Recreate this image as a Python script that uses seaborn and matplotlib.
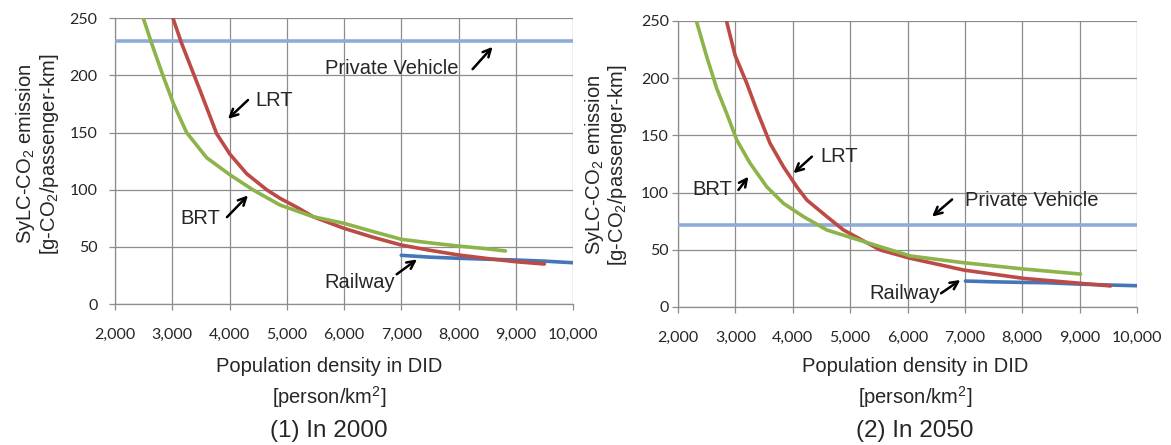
import seaborn as sns
import matplotlib.pyplot as plt
from matplotlib.ticker import FixedLocator

# (1) In 2000 -- population density in DID vs SyLC-CO2 emission
lrt_2000_x = [2950, 3013, 3164, 3485, 3776, 4009, 4300, 4649, 4882, 5200, 5460,
              6000, 6500, 7000, 7500, 8000, 8500, 9000, 9500]
lrt_2000_y = [262, 250, 228, 187, 149, 131, 114, 100, 92.5, 84, 76.4,
              66.2, 58.5, 51.6, 47, 42.9, 39.8, 37, 35]
brt_2000_x = [2450, 2495, 2640, 2844, 3019, 3251, 3601, 4009, 4416, 4882, 5460,
              6000, 6500, 7000, 7500, 8000, 8500, 8820]
brt_2000_y = [260, 250, 228, 199, 175.6, 150, 128, 113, 99.7, 86.6, 76.4,
              70.6, 63.5, 56.6, 53.5, 50.7, 48.3, 46.4]
rail_2000_x = [7000, 7500, 8000, 8500, 9000, 9500, 10000]
rail_2000_y = [42.6, 41, 40, 39.2, 38.5, 37.5, 36.1]
car_2000_x = [2000, 10000]
car_2000_y = [230, 230]

# (2) In 2050
lrt_2050_x = [2800, 2850, 2995, 3199, 3373, 3605, 3838, 4071, 4246, 4595, 4885,
              5525, 6049, 6979, 8026, 9016, 9539]
lrt_2050_y = [265, 249, 220, 195.5, 172, 143, 122.6, 105, 93.5, 79, 67.3,
              49.8, 42.6, 32.3, 25, 20.7, 18.4]
brt_2050_x = [2280, 2326, 2501, 2675, 2850, 3024, 3257, 3548, 3838, 4187, 4595,
              5525, 6049, 6979, 8026, 9016]
brt_2050_y = [265, 249, 218.8, 191, 169, 146, 125.6, 105, 90.6, 79, 67.3,
              52.7, 44.6, 38.7, 33.2, 28.8]
rail_2050_x = [7009, 7500, 8000, 8434, 9000, 9539, 10000]
rail_2050_y = [22.7, 22, 21.5, 21.2, 20, 19.2, 18.6]
car_2050_x = [2000, 10000]
car_2050_y = [72, 72]

x_ticks = [2000, 3000, 4000, 5000, 6000, 7000, 8000, 9000, 10000]
y_ticks = [0, 50, 100, 150, 200, 250]

RED = '#BC4A45'
GREEN = '#8CB44A'
BLUE = '#4675B8'
LIGHT = '#8FAAD7'
GRAY = '#8C8C8C'

sns.set_style('white')
plt.rcParams['font.family'] = ['Liberation Sans', 'DejaVu Sans']
plt.rcParams['mathtext.default'] = 'regular'

fig = plt.figure(figsize=(11.71, 4.45), dpi=100)
ax1 = fig.add_axes([115 / 1171, 141 / 445, 458 / 1171, 285.7 / 445])
ax2 = fig.add_axes([678 / 1171, 138 / 445, 459 / 1171, 286 / 445])


def setup(ax, ypad):
    ax.set_xlim(2000, 10000)
    ax.set_ylim(0, 250)
    ax.xaxis.set_major_locator(FixedLocator(x_ticks))
    ax.yaxis.set_major_locator(FixedLocator(y_ticks))
    ax.set_xticklabels([f'{v:,}' for v in x_ticks], fontfamily='Lato', fontsize=11.5)
    ax.set_yticklabels([str(v) for v in y_ticks], fontfamily='Lato', fontsize=11.5)
    ax.grid(True, color=GRAY, lw=0.9, zorder=0)
    ax.set_axisbelow(True)
    for s in ['top', 'right']:
        ax.spines[s].set_visible(False)
    for s in ['left', 'bottom']:
        ax.spines[s].set_color(GRAY)
        ax.spines[s].set_linewidth(0.9)
    ax.tick_params(axis='x', direction='out', length=4.5, width=0.9, color=GRAY, pad=13, bottom=True)
    ax.tick_params(axis='y', direction='out', length=4.5, width=0.9, color=GRAY, pad=ypad, left=True)


def draw(ax, series):
    for xs, ys, c in series:
        sns.lineplot(x=xs, y=ys, ax=ax, color=c, linewidth=2.6, zorder=3)


def note(ax, label, txt_xy, ha, tail, head):
    ax.text(txt_xy[0], txt_xy[1], label, ha=ha, va='center', fontsize=14.5, zorder=5)
    ax.annotate('', xy=head, xytext=tail,
                arrowprops=dict(arrowstyle='->', lw=1.8, color='black',
                                shrinkA=0, shrinkB=0, mutation_scale=14), zorder=5)


setup(ax1, 8)
draw(ax1, [(car_2000_x, car_2000_y, LIGHT),
           (rail_2000_x, rail_2000_y, BLUE),
           (lrt_2000_x, lrt_2000_y, RED),
           (brt_2000_x, brt_2000_y, GREEN)])
note(ax1, 'LRT', (4445, 178.5), 'left', (4323, 178.5), (3974, 162))
note(ax1, 'BRT', (3834, 75), 'right', (3956, 76), (4323, 95))
note(ax1, 'Private Vehicle', (5668, 206.5), 'left', (8246, 205.5), (8595, 225))
note(ax1, 'Railway', (6891, 19), 'right', (6920, 26), (7275, 39))

setup(ax2, 2)
draw(ax2, [(car_2050_x, car_2050_y, LIGHT),
           (rail_2050_x, rail_2050_y, BLUE),
           (lrt_2050_x, lrt_2050_y, RED),
           (brt_2050_x, brt_2050_y, GREEN)])
note(ax2, 'LRT', (4478, 131.4), 'left', (4333, 131.4), (4013, 116.9))
note(ax2, 'BRT', (2937, 102.3), 'right', (3053, 102.3), (3227, 113.9))
note(ax2, 'Private Vehicle', (7009, 93.5), 'left', (6777, 94), (6428, 79))
note(ax2, 'Railway', (6560, 12), 'right', (6585, 12), (6921, 23.6))

ylab = 'SyLC-CO$_2$ emission\n[g-CO$_2$/passenger-km]'
fig.text(37.5 / 1171, 1 - 154 / 445, ylab, rotation=90, ha='center', va='center',
         multialignment='center', fontsize=14.5, linespacing=1.05)
fig.text(606 / 1171, 1 - 165 / 445, ylab, rotation=90, ha='center', va='center',
         multialignment='center', fontsize=14.5, linespacing=1.05)

for cx, title in [(329, '(1) In 2000'), (915, '(2) In 2050')]:
    fig.text(cx / 1171, 1 - 367 / 445, 'Population density in DID', ha='center', va='center', fontsize=14.5)
    fig.text(cx / 1171, 1 - 397 / 445, '[person/km$^2$]', ha='center', va='center', fontsize=14.5)
    fig.text(cx / 1171, 1 - 431 / 445, title, ha='center', va='center', fontsize=17.5)

plt.savefig('out.png', dpi=100)
